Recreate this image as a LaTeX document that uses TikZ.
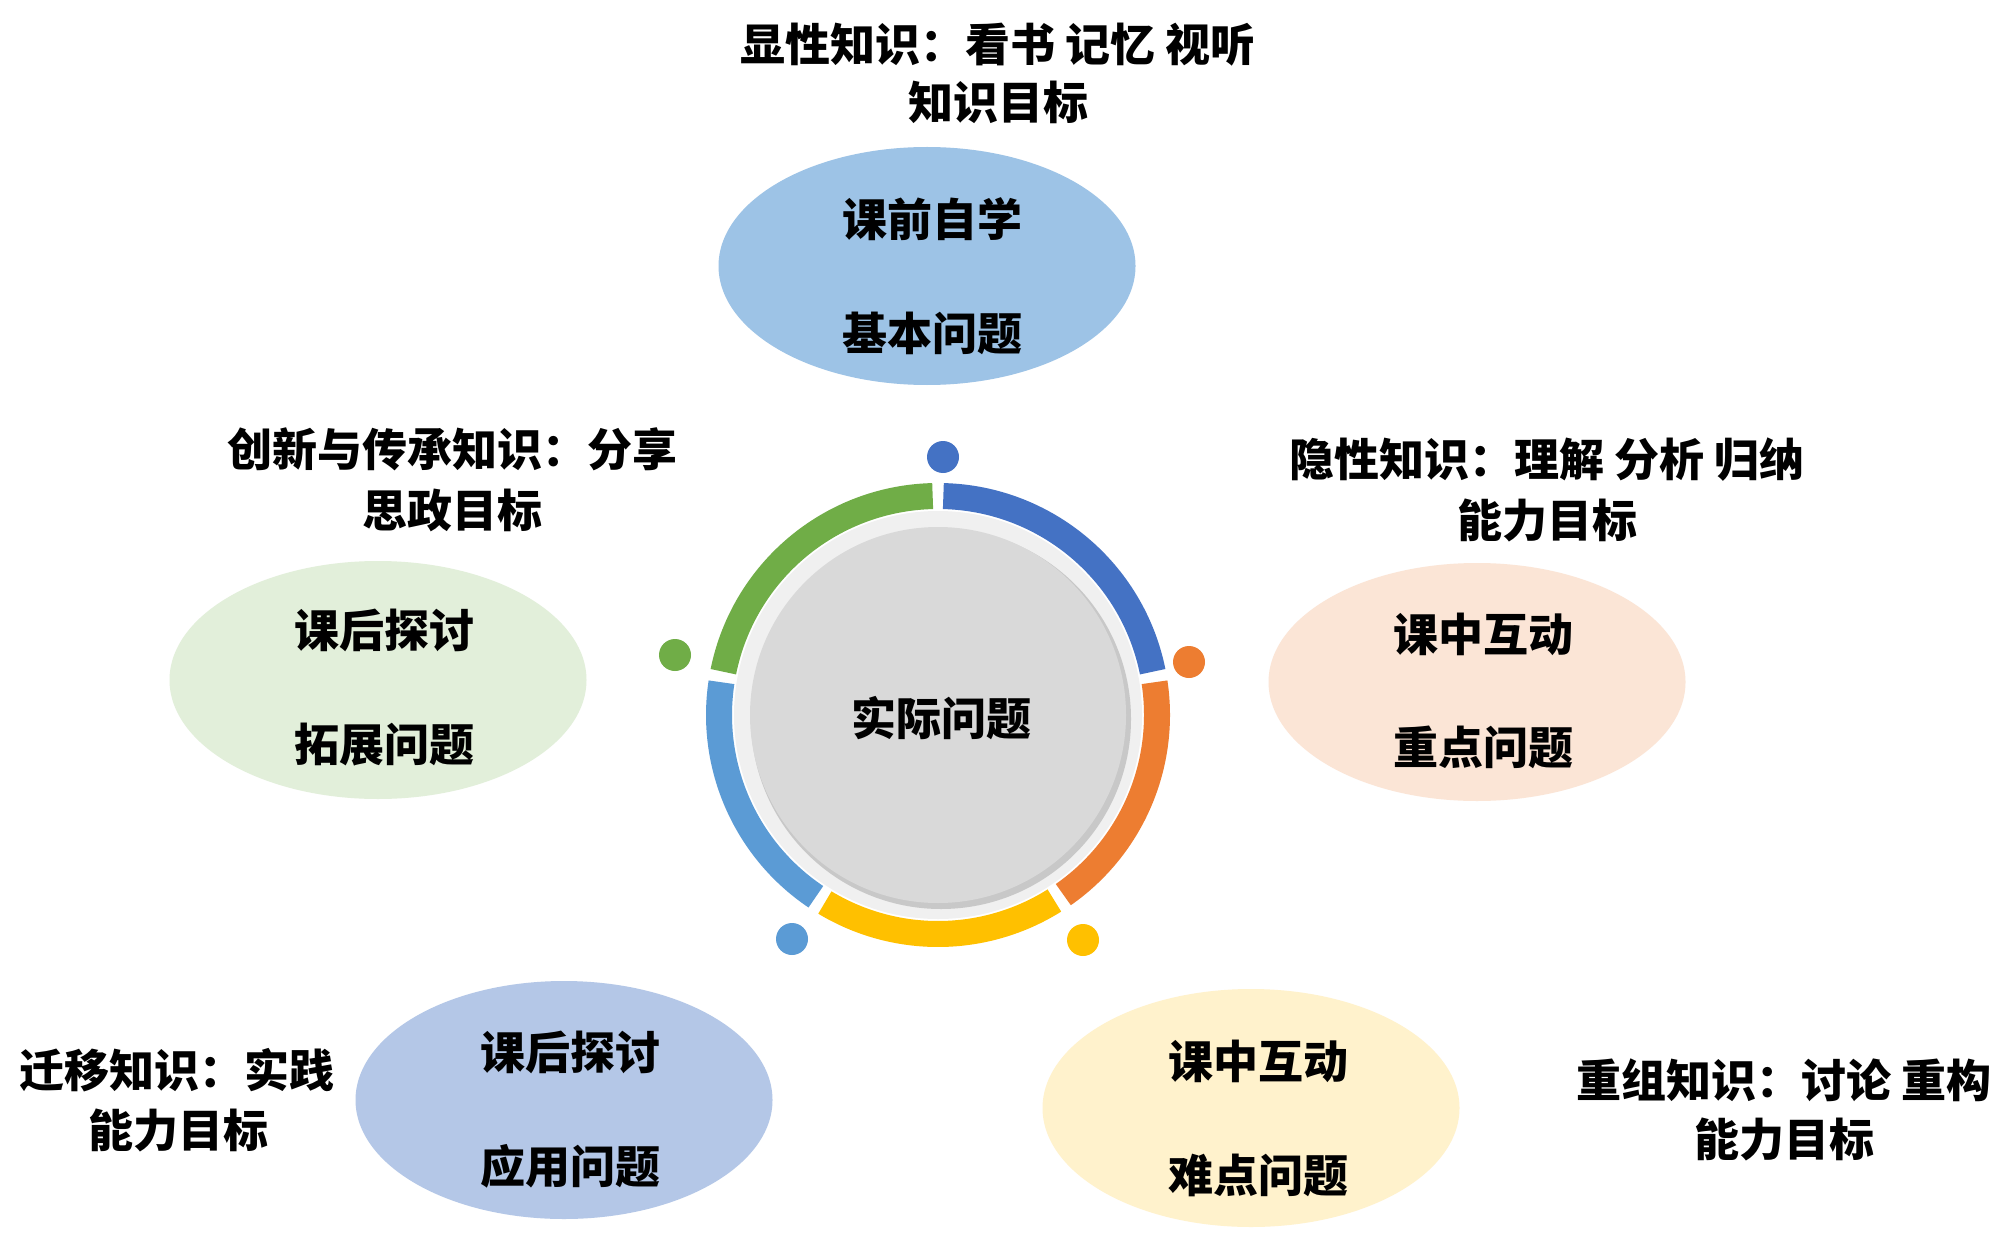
\documentclass[tikz,border=0pt]{standalone}
\usepackage{fontspec}
\setmainfont{Noto Sans CJK SC}
\usetikzlibrary{shapes.geometric,calc}
\definecolor{cBlue}{HTML}{4472C4}
\definecolor{cOrange}{HTML}{ED7D31}
\definecolor{cYellow}{HTML}{FFC000}
\definecolor{cBlueL}{HTML}{5B9BD5}
\definecolor{cGreen}{HTML}{70AD47}
\definecolor{eTop}{HTML}{9DC3E6}
\definecolor{eLeft}{HTML}{E2EFDA}
\definecolor{eRight}{HTML}{FBE5D6}
\definecolor{eBL}{HTML}{B4C7E7}
\definecolor{eBR}{HTML}{FFF2CC}
\definecolor{diskGray}{HTML}{D9D9D9}
\definecolor{diskShadow}{HTML}{C8C8C8}
\definecolor{ringLight}{HTML}{F0F0F0}
\begin{document}
\begin{tikzpicture}[x=0.5pt,y=0.5pt,
  oval/.style={ellipse, draw=none, minimum width=208.5pt, minimum height=119pt, inner sep=0pt},
  txt/.style={font=\bfseries\fontsize{22.5pt}{27pt}\selectfont, inner sep=0pt, anchor=center},
  seg/.style={line width=13pt, line cap=butt},
  dot/.style={circle, inner sep=0pt, minimum size=16pt, draw=none}]
\fill[white] (0,0) rectangle (2000,-1235);
\useasboundingbox (0,0) rectangle (2000,-1235);

% ellipses
\node[oval, fill=eTop]   (eT)  at (927,-266)  {};
\node[oval, fill=eLeft]  (eL)  at (378,-680)  {};
\node[oval, fill=eRight] (eR)  at (1477,-682) {};
\node[oval, fill=eBL]    (eBl) at (564,-1100) {};
\node[oval, fill=eBR]    (eBr) at (1251,-1108) {};

% ellipse texts
\node[txt] (tT1)  at (932,-219)  {课前自学};
\node[txt] (tT2)  at (932,-333)  {基本问题};
\node[txt] (tL1)  at (384,-630)  {课后探讨};
\node[txt] (tL2)  at (384,-745)  {拓展问题};
\node[txt] (tR1)  at (1483,-634) {课中互动};
\node[txt] (tR2)  at (1483,-747) {重点问题};
\node[txt] (tBl1) at (570,-1052) {课后探讨};
\node[txt] (tBl2) at (570,-1166) {应用问题};
\node[txt] (tBr1) at (1258,-1061) {课中互动};
\node[txt] (tBr2) at (1258,-1175) {难点问题};

% outer labels
\node[txt] (lT1)  at (998,-45)   {显性知识：看书 记忆 视听};
\node[txt] (lT2)  at (998,-102)  {知识目标};
\node[txt] (lL1)  at (452,-449)  {创新与传承知识：分享};
\node[txt] (lL2)  at (452,-510)  {思政目标};
\node[txt] (lR1)  at (1547,-460) {隐性知识：理解 分析 归纳};
\node[txt] (lR2)  at (1547,-520) {能力目标};
\node[txt] (lBl1) at (177,-1070) {迁移知识：实践};
\node[txt] (lBl2) at (178,-1130) {能力目标};
\node[txt] (lBr1) at (1784,-1080) {重组知识：讨论 重构};
\node[txt] (lBr2) at (1784,-1139) {能力目标};

% central disk
\coordinate (c) at (938,-715);
\fill[ringLight] (c) circle[radius=204];
\fill[diskShadow] ($(c)+(3,-4)$) circle[radius=190];
\fill[diskGray] (c) circle[radius=188];
\node[txt] (center) at (941,-718) {实际问题};

% ring segments
\draw[seg, cBlue]   ([shift={(11.4:219)}]c)  arc[start angle=11.4,  end angle=88.6,  radius=219];
\draw[seg, cOrange] ([shift={(-55.1:219)}]c) arc[start angle=-55.1, end angle=8.6,   radius=219];
\draw[seg, cYellow] ([shift={(-121.1:219)}]c) arc[start angle=-121.1, end angle=-57.9, radius=219];
\draw[seg, cBlueL]  ([shift={(171.4:219)}]c) arc[start angle=171.4, end angle=236.1, radius=219];
\draw[seg, cGreen]  ([shift={(91.4:219)}]c)  arc[start angle=91.4,  end angle=168.6, radius=219];

% dots
\node[dot, fill=cBlue]   (dB) at (943,-457) {};
\node[dot, fill=cOrange] (dO) at (1189,-662) {};
\node[dot, fill=cYellow] (dY) at (1083,-940) {};
\node[dot, fill=cBlueL]  (dL) at (792,-939) {};
\node[dot, fill=cGreen]  (dG) at (675,-655) {};
\end{tikzpicture}
\end{document}
